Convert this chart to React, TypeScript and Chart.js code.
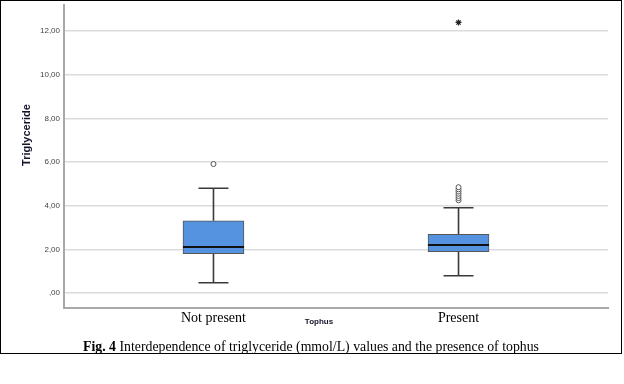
import React, { useEffect, useRef } from "react";
import { Chart, registerables } from "chart.js";

Chart.register(...registerables);

const categories = ["Not present", "Present"];
const categoryPositions = [1, 2];
const q1 = [1.8, 1.89];
const median = [2.11, 2.2];
const q3 = [3.31, 2.69];
const whiskerLow = [0.47, 0.79];
const whiskerHigh = [4.8, 3.91];
const outliersNotPresent = [5.91];
const outliersPresent = [4.25, 4.35, 4.45, 4.55, 4.65, 4.75, 4.85];
const extremesPresent = [12.4];
const yTicks = [0, 2, 4, 6, 8, 10, 12];

const BOX_W = 61;
const CAP_W = 30;

const fmt = (v: number) => (v === 0 ? ",00" : v.toFixed(2).replace(".", ","));

const boxPlugin = {
  id: "boxWhiskers",
  beforeDatasetsDraw(chart: any) {
    const { ctx, scales } = chart;
    const x = scales.x, y = scales.y;
    ctx.save();
    ctx.strokeStyle = "#3a3a3a";
    ctx.lineWidth = 1.6;
    categoryPositions.forEach((p, i) => {
      const px = x.getPixelForValue(p);
      const yl = y.getPixelForValue(whiskerLow[i]);
      const yq1 = y.getPixelForValue(q1[i]);
      const yq3 = y.getPixelForValue(q3[i]);
      const yh = y.getPixelForValue(whiskerHigh[i]);
      ctx.beginPath();
      ctx.moveTo(px, yl); ctx.lineTo(px, yq1);
      ctx.moveTo(px, yq3); ctx.lineTo(px, yh);
      ctx.moveTo(px - CAP_W / 2, yl); ctx.lineTo(px + CAP_W / 2, yl);
      ctx.moveTo(px - CAP_W / 2, yh); ctx.lineTo(px + CAP_W / 2, yh);
      ctx.stroke();
    });
    ctx.restore();
  },
  afterDatasetsDraw(chart: any) {
    const { ctx, scales } = chart;
    const x = scales.x, y = scales.y;
    ctx.save();
    ctx.strokeStyle = "#111";
    ctx.lineWidth = 2;
    categoryPositions.forEach((p, i) => {
      const px = x.getPixelForValue(p);
      const ym = y.getPixelForValue(median[i]);
      ctx.beginPath();
      ctx.moveTo(px - BOX_W / 2, ym); ctx.lineTo(px + BOX_W / 2, ym);
      ctx.stroke();
    });
    // y axis title
    ctx.save();
    ctx.translate(27, 135);
    ctx.rotate(-Math.PI / 2);
    ctx.fillStyle = "#14142a";
    ctx.font = "bold 11px 'Liberation Sans', Arial, sans-serif";
    ctx.textAlign = "center";
    ctx.textBaseline = "middle";
    ctx.fillText("Triglyceride", 0, 0);
    ctx.restore();
    ctx.restore();
  },
};

export default function App() {
  const ref = useRef<HTMLCanvasElement | null>(null);
  useEffect(() => {
    if (!ref.current) return;
    const chart = new Chart(ref.current, {
      type: "bar",
      data: {
        datasets: [
          {
            type: "bar",
            data: categoryPositions.map((p, i) => ({ x: p, y: [q1[i], q3[i]] })) as any,
            backgroundColor: "#5592e0",
            borderColor: "#555",
            borderWidth: 1,
            borderSkipped: false,
            barThickness: BOX_W,
          } as any,
          {
            type: "scatter",
            data: [
              ...outliersNotPresent.map((v) => ({ x: categoryPositions[0], y: v })),
              ...outliersPresent.map((v) => ({ x: categoryPositions[1], y: v })),
            ],
            pointStyle: "circle",
            radius: 2.5,
            backgroundColor: "#fff",
            borderColor: "#555",
            borderWidth: 1,
          } as any,
          {
            type: "scatter",
            data: extremesPresent.map((v) => ({ x: categoryPositions[1], y: v })),
            pointStyle: "star",
            radius: 3,
            borderColor: "#222",
            borderWidth: 1.2,
          } as any,
        ],
      },
      options: {
        responsive: false,
        animation: false,
        layout: { padding: { left: 0, top: 5, right: 16, bottom: 0 } },
        plugins: { legend: { display: false }, tooltip: { enabled: false } },
        scales: {
          x: {
            type: "linear",
            offset: false,
            min: 0.39,
            max: 2.61,
            grid: { display: false, drawTicks: false, offset: false },
            border: { display: true, color: "#a8a8a8", width: 2 },
            afterBuildTicks: (s: any) => {
              s.ticks = categoryPositions.map((v) => ({ value: v }));
            },
            afterFit: (s: any) => {
              s.height = 76;
              s.paddingLeft = 0;
              s.paddingRight = 0;
            },
            ticks: {
              padding: 2,
              color: "#000",
              font: { family: "'Liberation Serif', 'Times New Roman', serif", size: 14 },
              callback: (v: any) => {
                const i = categoryPositions.indexOf(Number(v));
                return i >= 0 ? categories[i] : "";
              },
              maxRotation: 0,
            },
          },
          y: {
            type: "linear",
            min: -0.687,
            max: 13.19,
            afterBuildTicks: (s: any) => {
              s.ticks = yTicks.map((v) => ({ value: v }));
            },
            afterFit: (s: any) => {
              s.width = 64;
              s.paddingTop = 0;
              s.paddingBottom = 0;
            },
            grid: { color: "#dcdcdc", lineWidth: 1.6, drawTicks: false },
            border: { display: true, color: "#a8a8a8", width: 2 },
            ticks: {
              padding: 4,
              color: "#444",
              font: { family: "'Liberation Sans', Arial, sans-serif", size: 8 },
              callback: (v: any) => fmt(Number(v)),
            },
          },
        },
      },
      plugins: [boxPlugin],
    } as any);
    return () => chart.destroy();
  }, []);

  return (
    <div style={{ position: "absolute", left: 0, top: 0, width: 624, height: 384, background: "#fff" }}>
      <canvas ref={ref} width={624} height={384} style={{ position: "absolute", left: 0, top: 0 }} />
      <div
        style={{
          position: "absolute", left: 0, top: 0, width: 622, height: 354,
          boxSizing: "border-box", border: "1.5px solid #000", pointerEvents: "none",
        }}
      />
      <div
        style={{
          position: "absolute", left: 289, top: 317, width: 60, textAlign: "center",
          font: "bold 8px 'Liberation Sans', Arial, sans-serif", color: "#14142a",
        }}
      >
        Tophus
      </div>
      <div
        style={{
          position: "absolute", left: 0, top: 338, width: 622, textAlign: "center",
          fontFamily: "'Liberation Serif', 'Times New Roman', serif", fontSize: 13.8, lineHeight: "17px", color: "#000",
        }}
      >
        <b>Fig. 4</b> Interdependence of triglyceride (mmol/L) values and the presence of tophus
      </div>
    </div>
  );
}
